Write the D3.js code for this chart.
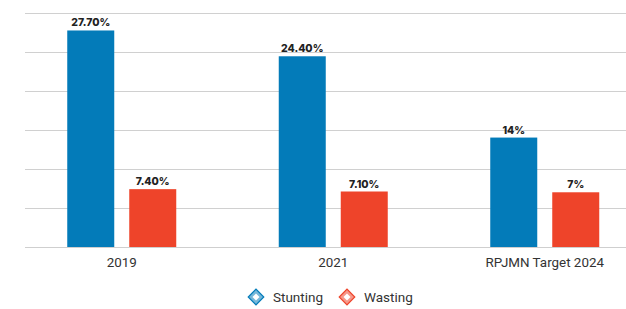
<!DOCTYPE html>
<html><head><meta charset="utf-8">
<script src="https://cdn.jsdelivr.net/npm/d3@7"></script>
<style>body{margin:0;background:#fff}svg{display:block}</style>
</head><body>
<svg id="c" width="626" height="309"></svg>
<script>
const categories = ["2019", "2021", "RPJMN Target 2024"];
const seriesNames = ["Stunting", "Wasting"];
const stunting = [27.7, 24.4, 14];
const wasting = [7.4, 7.1, 7];
const valueLabels = [["27.70%", "24.40%", "14%"], ["7.40%", "7.10%", "7%"]];
const yTicks = [0, 5, 10, 15, 20, 25, 30];
const colors = ["#037bb9", "#ee442a"];

const svg = d3.select("#c");
const x = d3.scaleBand().domain(categories).range([16, 650.5]).padding(0);
const inner = d3.scaleBand().domain(seriesNames).range([-54.5, 54.5]).paddingInner(15/62).paddingOuter(0);
const y = d3.scaleLinear().domain([0, 30]).range([247, 12.5]);

// gridlines
svg.append("g").selectAll("line").data(yTicks).join("line")
  .attr("x1", 25).attr("x2", 626)
  .attr("y1", d => Math.round(y(d)) + 0.5).attr("y2", d => Math.round(y(d)) + 0.5)
  .attr("stroke", "#d0d0d0").attr("stroke-width", 1);

const series = [stunting, wasting];
seriesNames.forEach((s, si) => {
  const g = svg.append("g");
  g.selectAll("rect").data(categories).join("rect")
    .attr("x", (c) => x(c) + x.bandwidth()/2 + inner(s))
    .attr("y", (c, i) => y(series[si][i]))
    .attr("width", inner.bandwidth())
    .attr("height", (c, i) => y(0) - y(series[si][i]))
    .attr("fill", colors[si]);
  g.selectAll("text").data(categories).join("text")
    .attr("x", (c) => x(c) + x.bandwidth()/2 + inner(s) + inner.bandwidth()/2)
    .attr("y", (c, i) => y(series[si][i]) - 4)
    .attr("text-anchor", "middle")
    .attr("font-family", "Inter, 'Open Sans', sans-serif")
    .attr("font-weight", 800)
    .attr("font-size", 10.5)
    .attr("fill", "#222")
    .text((c, i) => valueLabels[si][i]);
});

// baseline over bars
svg.append("line").attr("x1", 25).attr("x2", 626)
  .attr("y1", Math.round(y(0)) + 0.5).attr("y2", Math.round(y(0)) + 0.5)
  .attr("stroke", "#cfcfcf");

// category labels
svg.append("g").selectAll("text").data(categories).join("text")
  .attr("x", c => x(c) + x.bandwidth()/2)
  .attr("y", 267)
  .attr("text-anchor", "middle")
  .attr("font-family", "Roboto, sans-serif")
  .attr("font-size", 13.4)
  .attr("fill", "#333")
  .text(c => c);

// legend
const legendX = [256, 347];
seriesNames.forEach((s, si) => {
  const g = svg.append("g").attr("transform", `translate(${legendX[si]},297)`);
  g.append("rect").attr("x", -5.5).attr("y", -5.5).attr("width", 11).attr("height", 11)
    .attr("transform", "rotate(45)")
    .attr("fill", colors[si]).attr("fill-opacity", 0.55)
    .attr("stroke", colors[si]).attr("stroke-width", 1.2);
  g.append("rect").attr("x", -2.5).attr("y", -2.5).attr("width", 5).attr("height", 5)
    .attr("transform", "rotate(45)")
    .attr("fill", "#fff");
  g.append("text").attr("x", 17).attr("y", 5)
    .attr("font-family", "Roboto, sans-serif")
    .attr("font-size", 13.5)
    .attr("fill", "#333")
    .text(s);
});
</script>
</body></html>
